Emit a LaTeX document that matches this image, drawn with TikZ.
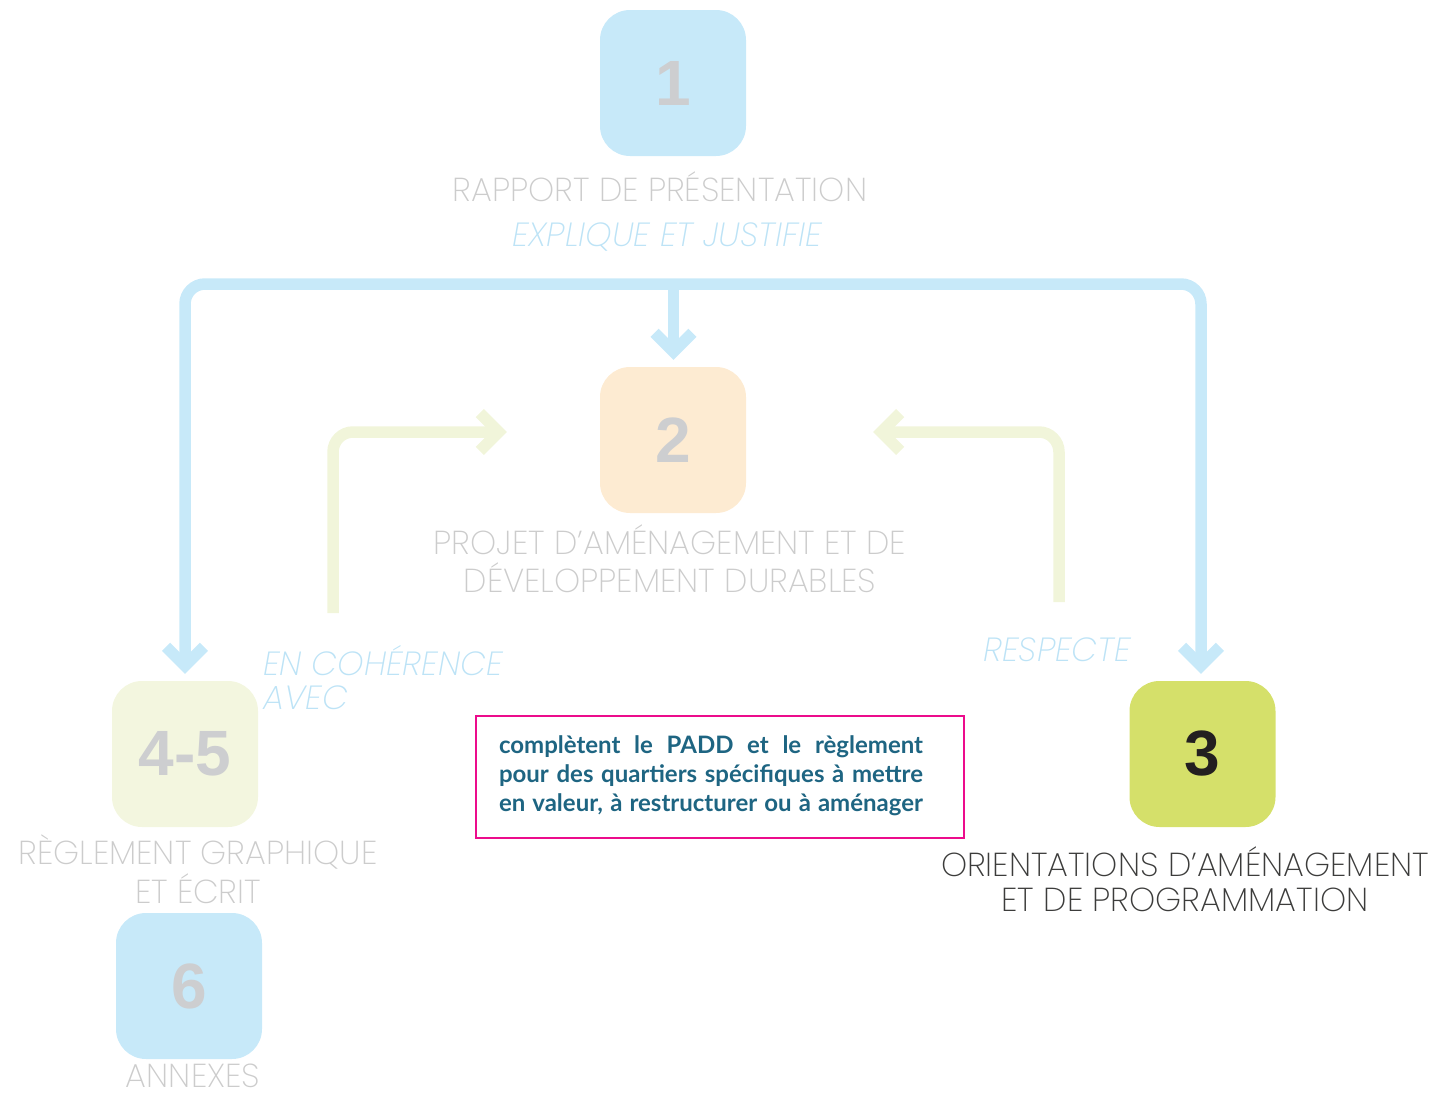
\documentclass[tikz,border=0pt]{standalone}
\usepackage{fontspec}
\setmainfont{Poppins}[UprightFont=* ExtraLight, ItalicFont=* ExtraLight Italic, BoldFont=* SemiBold]
\newfontfamily\notefont{Lato}
\newfontfamily\numfont{Liberation Sans}
\usetikzlibrary{calc}

\definecolor{sky}{HTML}{C7E9F9}
\definecolor{skytext}{HTML}{BDE3F6}
\definecolor{peach}{HTML}{FDEBD2}
\definecolor{pale}{HTML}{F3F6DF}
\definecolor{paleline}{HTML}{F1F5DA}
\definecolor{lime}{HTML}{D5E06A}
\definecolor{numgray}{HTML}{CDCED0}
\definecolor{labgray}{HTML}{CCCCCC}
\definecolor{darklab}{HTML}{3C3C3B}
\definecolor{magenta}{HTML}{EC0C8C}
\definecolor{teal}{HTML}{1E6582}
\definecolor{ink}{HTML}{231F20}

\tikzset{
  tile/.style={rectangle, rounded corners=30pt, minimum width=146pt,
    minimum height=146pt, inner sep=0pt, font=\numfont\bfseries\fontsize{64}{64}\selectfont, text=numgray},
  flow/.style={line width=11.5pt, line cap=butt, line join=miter, rounded corners=20pt},
  chev/.style={line width=11.5pt, line cap=butt, line join=miter},
  lab/.style={font=\fontsize{33.2}{33.2}\selectfont, text=labgray, inner sep=0pt},
  verb/.style={font=\fontsize{33.5}{33.5}\selectfont\itshape, text=skytext, inner sep=0pt},
}

\begin{document}
\begin{tikzpicture}[x=1pt,y=-1pt]
\useasboundingbox (0,0) rectangle (1452,1098);

% document tiles
\node[tile, fill=sky]   (n1)  at (673,83)    {1};
\node[tile, fill=peach] (n2)  at (673,440)   {2};
\node[tile, fill=lime, text=ink] (n3) at (1202.5,754) {3};
\node[tile, fill=pale]  (n45) at (185,754)   {4-5};
\node[tile, fill=sky]   (n6)  at (189,986)   {6};

% tile captions
\node[lab] (t1)  at (660,187) {RAPPORT DE PRÉSENTATION};
\node[lab] (t2a) at (670,540) {PROJET D’AMÉNAGEMENT ET DE};
\node[lab] (t2b) at (670,578) {DÉVELOPPEMENT DURABLES};
\node[lab, text=darklab] (t3a) at (1185,862) {ORIENTATIONS D’AMÉNAGEMENT};
\node[lab, text=darklab] (t3b) at (1185,900) {ET DE PROGRAMMATION};
\node[lab] (t45a) at (198,852) {RÈGLEMENT GRAPHIQUE};
\node[lab] (t45b) at (198,889) {ET ÉCRIT};
\node[lab] (t6)  at (193,1076) {ANNEXES};

% relation verbs
\node[verb] (v1) at (667,237) {EXPLIQUE ET JUSTIFIE};
\node[verb, anchor=west] (v2a) at (263,661) {EN COHÉRENCE};
\node[verb, anchor=west] (v2b) at (263,698) {AVEC};
\node[verb] (v3) at (1057,650) {RESPECTE};

% arrow tip points
\coordinate (tipL) at ($(n45.north)+(0,-15)$);
\coordinate (tipR) at ($(n3.north)+(-1.5,-15)$);
\coordinate (tipM) at ($(n2.north)+(0.5,-15)$);
\coordinate (bus)  at (673.5,284);

% explanatory connector from the report
\draw[flow, sky] (tipL) |- (bus) -| (tipR);
\draw[chev, sky] ($(bus)+(0,6)$) -- (tipM);
\foreach \t in {tipL,tipR,tipM}
  \draw[chev, sky] ($(\t)+(-19,-19)$) -- (\t) -- ($(\t)+(19,-19)$);

% coherence connectors towards the PADD
\coordinate (gL0) at (333,613);
\coordinate (gL)  at ($(n2.west)+(-101,-8)$);
\coordinate (gR0) at (1059,602);
\coordinate (gR)  at ($(n2.east)+(135,-8)$);
\draw[flow, paleline] (gL0) |- (gL);
\draw[flow, paleline] (gR0) |- (gR);
\draw[chev, paleline] ($(gL)+(-19,-19)$) -- (gL) -- ($(gL)+(-19,19)$);
\draw[chev, paleline] ($(gR)+(19,-19)$) -- (gR) -- ($(gR)+(19,19)$);

% note on the orientations
\node[draw=magenta, line width=2.5pt, minimum width=488pt, minimum height=122pt,
      inner sep=0pt] (note) at (720,777) {};
\node[inner sep=0pt, text=teal, font=\notefont\bfseries\fontsize{24}{29}\selectfont,
      align=left] (notetext) at (711,776)
  {\makebox[424pt][s]{complètent le PADD et le règlement}\\
   \makebox[424pt][s]{pour des quartiers spécifiques à mettre}\\
   \makebox[424pt][s]{en valeur, à restructurer ou à aménager}};
\end{tikzpicture}
\end{document}
